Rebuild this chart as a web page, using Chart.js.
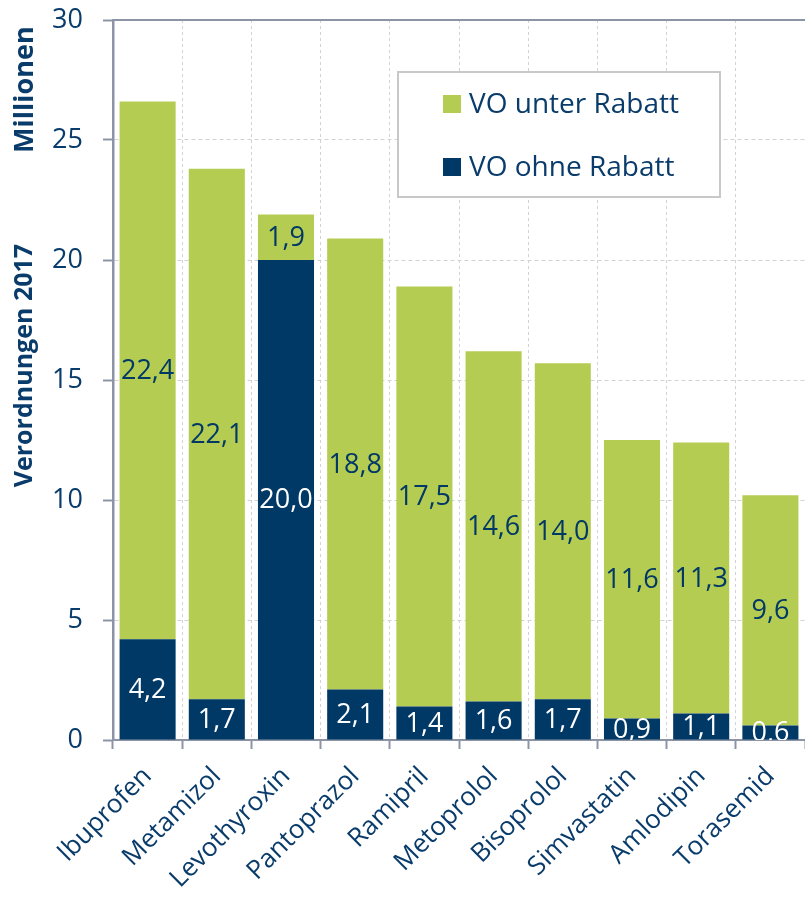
<!DOCTYPE html>
<html>
<head>
<meta charset="utf-8">
<script src="https://cdn.jsdelivr.net/npm/chart.js@4.4.1/dist/chart.umd.min.js"></script>
<style>
  html, body { margin: 0; padding: 0; background: #ffffff; }
  #wrap { width: 805px; height: 900px; position: relative; }
  canvas { display: block; }
</style>
</head>
<body>
<div id="wrap"><canvas id="c" width="805" height="900"></canvas></div>
<script>
const categories = ["Ibuprofen", "Metamizol", "Levothyroxin", "Pantoprazol", "Ramipril", "Metoprolol", "Bisoprolol", "Simvastatin", "Amlodipin", "Torasemid"];
const ohneRabatt = [4.2, 1.7, 20.0, 2.1, 1.4, 1.6, 1.7, 0.9, 1.1, 0.6];
const unterRabatt = [22.4, 22.1, 1.9, 18.8, 17.5, 14.6, 14.0, 11.6, 11.3, 9.6];
const seriesNames = ["VO ohne Rabatt", "VO unter Rabatt"];
const yMin = 0, yMax = 30, yStep = 5;
const yTitle = "Verordnungen 2017";
const yUnit = "Millionen";

const GREEN = "#B5CC52";
const BLUE = "#003866";
const TEXT = "#0A3C6B";
const AXIS = "#8C94A6";
const GRID = "#D2D2D2";
const FONT = "'Open Sans', 'Liberation Sans', sans-serif";

const barLabels = {
  id: "barLabels",
  afterDatasetsDraw(chart) {
    const ctx = chart.ctx, area = chart.chartArea;
    ctx.save();
    ctx.beginPath();
    ctx.rect(area.left, area.top, area.right - area.left, area.bottom - area.top);
    ctx.clip();
    ctx.font = "27px " + FONT;
    ctx.textAlign = "center";
    ctx.textBaseline = "middle";
    chart.data.datasets.forEach((ds, di) => {
      const meta = chart.getDatasetMeta(di);
      meta.data.forEach((bar, i) => {
        const v = ds.data[i];
        const mid = (bar.y + bar.base) / 2;
        ctx.fillStyle = ds.labelColor;
        ctx.fillText(v.toFixed(1).replace(".", ","), bar.x, mid + 1);
      });
    });
    ctx.restore();
  }
};

const boxLegend = {
  id: "boxLegend",
  afterDraw(chart) {
    const ctx = chart.ctx;
    const x = 398, y = 72, w = 322, h = 125;
    ctx.save();
    ctx.fillStyle = "#ffffff";
    ctx.fillRect(x, y, w, h);
    ctx.strokeStyle = "#C8C8C8";
    ctx.lineWidth = 2;
    ctx.strokeRect(x, y, w, h);
    const items = [chart.data.datasets[1], chart.data.datasets[0]];
    ctx.font = "28px " + FONT;
    ctx.textBaseline = "middle";
    ctx.textAlign = "left";
    items.forEach((ds, k) => {
      const cy = y + 32 + k * 63;
      ctx.fillStyle = ds.backgroundColor;
      ctx.fillRect(x + 45, cy - 9, 18, 18);
      ctx.fillStyle = TEXT;
      ctx.fillText(ds.label, x + 71, cy + 1);
    });
    ctx.restore();

    // rotated y-axis captions
    const yScale = chart.scales.y;
    ctx.save();
    ctx.fillStyle = TEXT;
    ctx.textAlign = "center";
    ctx.textBaseline = "middle";
    ctx.translate(25, yScale.getPixelForValue(27.1));
    ctx.rotate(-Math.PI / 2);
    ctx.font = "bold 27px " + FONT;
    ctx.fillText(yUnit, 0, 0);
    ctx.restore();
    ctx.save();
    ctx.fillStyle = TEXT;
    ctx.textAlign = "center";
    ctx.textBaseline = "middle";
    ctx.translate(25, yScale.getPixelForValue(15.6));
    ctx.rotate(-Math.PI / 2);
    ctx.font = "bold 25px " + FONT;
    ctx.fillText(yTitle, 0, 0);
    ctx.restore();
  }
};

new Chart(document.getElementById("c"), {
  type: "bar",
  data: {
    labels: categories,
    datasets: [
      { label: seriesNames[0], data: ohneRabatt, backgroundColor: BLUE, labelColor: "#ffffff", barPercentage: 0.81, categoryPercentage: 1.0, stack: "s" },
      { label: seriesNames[1], data: unterRabatt, backgroundColor: GREEN, labelColor: BLUE, barPercentage: 0.81, categoryPercentage: 1.0, stack: "s" }
    ]
  },
  options: {
    responsive: false,
    animation: false,
    devicePixelRatio: 1,
    layout: { padding: { top: 20, right: 0, left: 0, bottom: 0 } },
    plugins: { legend: { display: false }, tooltip: { enabled: false } },
    scales: {
      x: {
        stacked: true,
        grid: { color: GRID, lineWidth: 1, tickColor: AXIS, tickLength: 9, tickWidth: 2, offset: true, drawOnChartArea: true },
        border: { color: AXIS, width: 2, dash: [3, 3] },
        ticks: { color: TEXT, font: { family: FONT, size: 26 }, minRotation: 45, maxRotation: 45, padding: 12, autoSkip: false },
        afterFit(scale) { scale.height = 160; }
      },
      xTop: {
        position: "top",
        display: true,
        grid: { display: false },
        ticks: { display: false },
        border: { display: true, color: AXIS, width: 2 },
        afterFit(scale) { scale.height = 0; }
      },
      y: {
        stacked: true,
        min: yMin, max: yMax,
        ticks: { stepSize: yStep, color: TEXT, font: { family: FONT, size: 27 }, padding: 20 },
        grid: { color: GRID, lineWidth: 1, tickColor: AXIS, tickLength: 10, tickWidth: 2 },
        border: { color: AXIS, width: 2.5, dash: [4, 3] },
        title: { display: false, text: yTitle },
        afterFit(scale) { scale.width = 113; scale.paddingTop = 0; scale.paddingBottom = 0; }
      }
    }
  },
  plugins: [barLabels, boxLegend]
});
</script>
</body>
</html>
